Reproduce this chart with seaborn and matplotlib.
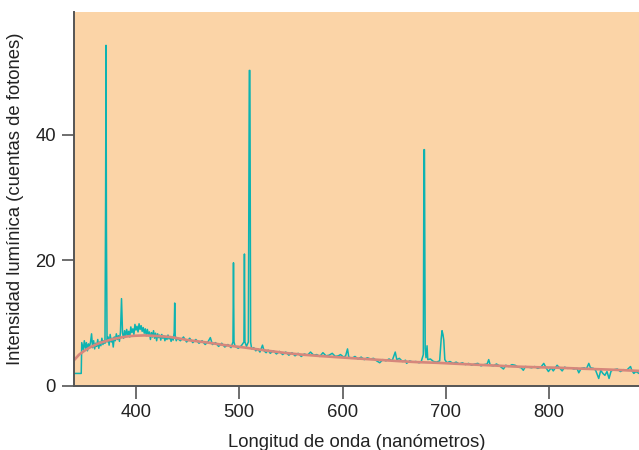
import matplotlib
matplotlib.use("Agg")
import matplotlib.pyplot as plt
import seaborn as sns

# ---- data ----
wavelength_nm = [
    340, 347, 347.5, 349, 350, 351, 352, 353, 354, 355, 356, 357, 358, 359, 360,
    361, 362, 363, 364, 365, 366, 367, 368, 369, 370, 370.6, 371, 371.4, 372,
    373, 374, 375, 376, 377, 378, 379, 380, 381, 382, 383, 384, 385, 386, 387,
    388, 389, 390, 391, 392, 393, 394, 395, 396, 397, 398, 399, 400, 401, 402,
    403, 404, 405, 406, 407, 408, 409, 410, 411, 412, 413, 414, 415, 416, 417,
    418, 419, 420, 421, 422, 423, 424, 425, 426, 427, 428, 429, 430, 431, 432,
    433, 434, 435, 436, 437, 437.5, 438, 439, 440, 443, 446, 449, 452, 455,
    458, 461, 464, 467, 470, 472, 474, 477, 480, 483, 486, 489, 492, 493.9,
    494.4, 494.9, 496, 499, 502, 504.5, 505, 505.5, 507, 508.8, 509.7, 510.3,
    511.0, 512, 514, 516, 518, 520, 522.5, 524, 526, 528, 530, 533, 536, 539,
    542, 545, 548, 551, 554, 557, 560, 563, 566, 569, 572, 575, 578, 581, 584,
    587, 590, 593, 596, 598, 601, 603, 604.8, 606, 609, 612, 615, 618, 621,
    624, 627, 630, 633, 636, 639, 642, 645, 648, 651, 652.5, 655, 658, 661,
    662, 665, 668, 671, 674, 676, 678.2, 678.8, 679.3, 680.0, 680.8, 681.8,
    682.5, 685, 688, 691, 694, 695.5, 696.3, 697.2, 698, 699, 701, 704, 707,
    710, 713, 716, 719, 722, 725, 728, 731, 734, 737, 740, 741.5, 743, 746,
    749, 752, 755.8, 758, 761, 764, 767, 770, 773, 775, 777, 780, 783, 786,
    789, 792, 794.8, 797, 799.3, 802, 804, 807.7, 810, 812.6, 815, 818, 821,
    824, 827, 828.7, 831, 834, 836, 838.4, 840, 843, 845, 848, 850, 852, 854,
    856, 858, 860, 863, 866, 869, 872, 875, 878.8, 880, 882, 884, 887,
]
intensity = [
    2.0, 2.0, 6.9, 5.8, 7.2, 6.0, 6.9, 5.6, 6.7, 6.2, 7.0, 8.3, 6.1, 7.2, 5.9,
    6.8, 6.3, 7.4, 6.0, 7.0, 6.4, 7.6, 6.6, 7.2, 6.8, 30.0, 54.2, 25.0, 7.0,
    7.8, 6.5, 8.2, 7.0, 7.6, 6.2, 7.8, 7.2, 8.3, 7.4, 8.0, 7.1, 8.6, 13.9, 8.4,
    7.6, 8.8, 7.9, 9.0, 8.1, 8.7, 7.8, 9.4, 8.5, 9.1, 8.2, 9.8, 8.9, 9.5, 8.6,
    9.9, 9.0, 9.6, 8.7, 9.3, 8.4, 9.1, 8.0, 9.0, 8.2, 8.6, 7.4, 8.5, 7.8, 8.8,
    7.6, 8.4, 7.2, 8.3, 7.7, 8.1, 7.3, 8.2, 7.6, 8.0, 7.2, 7.9, 7.4, 8.1, 7.5,
    7.8, 7.1, 7.7, 7.3, 8.5, 13.2, 8.0, 7.2, 7.6, 7.2, 7.8, 7.0, 7.6, 6.9,
    7.4, 6.8, 7.2, 6.6, 7.1, 7.7, 6.6, 6.9, 6.3, 6.8, 6.2, 6.6, 6.1, 7.0,
    19.6, 7.0, 6.3, 6.0, 6.4, 7.0, 21.0, 7.0, 6.3, 7.0, 50.2, 50.2,
    7.0, 5.9, 6.1, 5.6, 5.9, 5.4, 6.5, 5.6, 5.3, 5.7, 5.2, 5.6, 5.1, 5.5,
    5.0, 5.4, 4.9, 5.3, 4.8, 5.2, 4.7, 5.1, 4.9, 5.4, 4.9, 5.0, 4.7, 5.3, 4.8,
    4.9, 5.2, 4.7, 4.8, 5.0, 4.6, 4.8, 5.9, 4.6, 4.4, 4.7, 4.3, 4.6, 4.2,
    4.5, 4.3, 4.4, 4.0, 3.7, 4.2, 4.0, 4.3, 4.0, 5.4, 4.2, 4.4, 3.9, 4.1,
    3.6, 4.0, 3.8, 3.9, 3.7, 3.8, 5.0, 37.6, 37.6, 6.0, 4.5, 6.4,
    4.2, 4.3, 3.9, 3.8, 4.0, 7.5, 8.8, 8.2, 7.3, 4.2, 3.7, 3.9, 3.6,
    3.8, 3.5, 3.7, 3.4, 3.6, 3.3, 3.5, 3.6, 3.2, 3.4, 3.5, 4.2, 3.3, 3.2,
    3.5, 3.2, 2.7, 3.3, 3.1, 3.4, 3.3, 3.0, 2.9, 2.5, 3.1, 3.0, 2.9, 3.1,
    2.8, 3.0, 3.6, 2.9, 2.3, 2.9, 2.4, 3.3, 2.9, 2.4, 3.0, 2.8, 2.9,
    2.7, 2.8, 2.1, 2.8, 2.9, 2.7, 3.6, 2.9, 2.8, 2.5, 1.2, 2.5, 2.0, 1.7,
    2.3, 1.2, 2.4, 2.6, 2.7, 2.3, 2.6, 2.5, 3.1, 2.5, 2.0, 2.3, 2.0,
]
continuum_nm = [340, 345, 350, 355, 360, 365, 370, 375, 380, 385, 390, 395,
                400, 408, 415, 425, 433, 442, 450, 460, 470, 486, 506, 528,
                545, 560, 580, 598, 617, 636, 655, 672, 690, 709, 728, 748,
                766, 785, 810, 833, 860, 887]
continuum = [4.1, 5.0, 5.6, 6.1, 6.5, 6.85, 7.1, 7.35, 7.55, 7.7, 7.85, 7.95,
             8.0, 8.05, 8.0, 7.9, 7.8, 7.55, 7.3, 7.1, 6.9, 6.5, 6.1, 5.6,
             5.25, 5.0, 4.75, 4.55, 4.35, 4.15, 3.95, 3.8, 3.7, 3.55, 3.4, 3.25,
             3.1, 3.0, 2.9, 2.75, 2.6, 2.4]
x_ticks = [400, 500, 600, 700, 800]
y_ticks = [0, 20, 40]
x_label = "Longitud de onda (nanómetros)"
y_label = "Intensidad lumínica (cuentas de fotones)"

# ---- styling ----
sns.set_theme(style="ticks")
plt.rcParams['font.family'] = ['Liberation Sans', 'DejaVu Sans']

BG = "#fbd4a7"
TEAL = "#0db3b1"
RED = "#d6877c"
SPINE = "#555555"

fig = plt.figure(figsize=(6.39, 4.5), dpi=100)
ax = fig.add_axes([74 / 639, 1 - 386 / 450, 1 - 74 / 639, (386 - 12) / 450])
ax.set_facecolor(BG)

sns.lineplot(x=wavelength_nm, y=intensity, ax=ax, color=TEAL, lw=1.1,
             estimator=None, sort=False)
sns.lineplot(x=continuum_nm, y=continuum, ax=ax, color=RED, lw=1.9,
             estimator=None, sort=False)

ax.set_xlim(340, 887)
ax.set_ylim(0, 59.5)
ax.set_xticks(x_ticks)
ax.set_yticks(y_ticks)
ax.tick_params(axis='both', length=9, width=1.2, color=SPINE, pad=4,
               labelsize=13.3, labelcolor="#222222")
for s in ["top", "right"]:
    ax.spines[s].set_visible(False)
for s in ["left", "bottom"]:
    ax.spines[s].set_color(SPINE)
    ax.spines[s].set_linewidth(1.4)

ax.set_xlabel(x_label, fontsize=13.3, color="#222222", labelpad=9)
ax.set_ylabel(y_label, fontsize=13.3, color="#222222", labelpad=8)

fig.savefig("out.png", dpi=100)
